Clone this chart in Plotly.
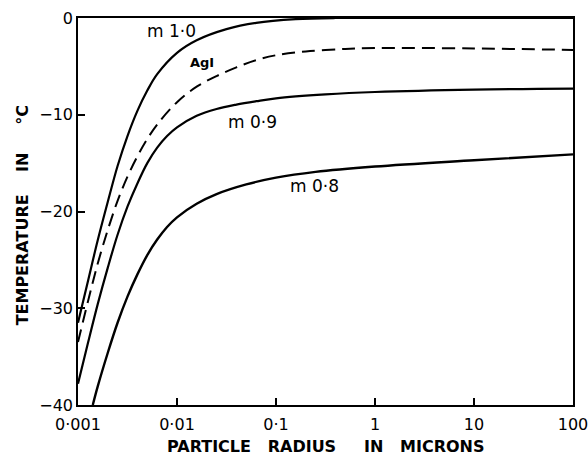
import math
import plotly.graph_objects as go

# radius in microns, temperature in °C
m10_r = [0.001, 0.00126, 0.00158, 0.002, 0.00251, 0.00316, 0.00398, 0.00501, 0.00631, 0.01, 0.0158, 0.0316, 0.0631, 0.158, 0.398, 1, 10, 100]
m10_t = [-31.5, -27.2, -23.0, -19.0, -15.3, -12.2, -9.6, -7.5, -5.8, -3.6, -2.3, -1.15, -0.5, -0.12, 0, 0, 0, 0]

agi_r = [0.001, 0.00126, 0.00158, 0.002, 0.00251, 0.00316, 0.00398, 0.00501, 0.00631, 0.01, 0.0158, 0.0251, 0.0398, 0.0631, 0.1, 0.2, 0.5, 1, 10, 100]
agi_t = [-33.5, -29.3, -25.4, -21.9, -18.9, -16.4, -14.3, -12.5, -11.0, -8.7, -7.1, -6.0, -5.1, -4.35, -3.85, -3.45, -3.2, -3.1, -3.15, -3.3]

m09_r = [0.001, 0.00126, 0.00158, 0.002, 0.00251, 0.00316, 0.00398, 0.00501, 0.00631, 0.00794, 0.01, 0.0158, 0.0251, 0.0398, 0.0631, 0.1, 0.316, 1, 10, 100]
m09_t = [-37.8, -33.6, -29.6, -25.8, -22.4, -19.5, -17.1, -15.0, -13.4, -12.2, -11.3, -10.1, -9.4, -8.95, -8.6, -8.3, -7.9, -7.65, -7.4, -7.3]

m08_r = [0.00141, 0.00158, 0.002, 0.00251, 0.00316, 0.00398, 0.00501, 0.00631, 0.00794, 0.01, 0.0158, 0.0251, 0.0501, 0.1, 0.251, 1, 10, 100]
m08_t = [-40, -38.1, -34.6, -31.5, -28.8, -26.5, -24.5, -22.9, -21.6, -20.6, -19.2, -18.2, -17.2, -16.5, -15.9, -15.35, -14.7, -14.1]

x_tickvals = [0.001, 0.01, 0.1, 1, 10, 100]
x_ticktext = ["0·001", "0·01", "0·1", "1", "10", "100"]
y_tickvals = [0, -10, -20, -30, -40]
y_ticktext = ["0", "−10", "−20", "−30", "−40"]

labels = [("m 1·0", 0.0087, -1.35, 17, "normal"), ("AgI", 0.0178, -4.6, 13, "bold"),
          ("m 0·9", 0.0575, -10.7, 17, "normal"), ("m 0·8", 0.245, -17.4, 17, "normal")]

FONT = "DejaVu Sans"
NB = "\u00a0"
fig = go.Figure()
common = dict(mode="lines", line_shape="spline", showlegend=False, hoverinfo="skip")
fig.add_trace(go.Scatter(x=m10_r, y=m10_t, line=dict(color="black", width=2.2), **common))
fig.add_trace(go.Scatter(x=agi_r, y=agi_t, line=dict(color="black", width=2, dash="13px,7px"), **common))
fig.add_trace(go.Scatter(x=m09_r, y=m09_t, line=dict(color="black", width=2.2), **common))
fig.add_trace(go.Scatter(x=m08_r, y=m08_t, line=dict(color="black", width=2.4), **common))

for txt, x, y, s, w in labels:
    fig.add_annotation(x=math.log10(x), y=y, text=txt, showarrow=False,
                       font=dict(family=FONT, size=s, color="black", weight=w))

fig.add_annotation(xref="paper", yref="paper", x=0.5, y=0, yshift=-41, xanchor="center",
                   yanchor="middle", showarrow=False,
                   text=f"PARTICLE{NB*3}RADIUS{NB*5}IN{NB*3}MICRONS",
                   font=dict(family=FONT, size=16, color="black", weight="bold"))
fig.add_annotation(xref="paper", yref="paper", x=0, xshift=-56, y=0.49, xanchor="center",
                   yanchor="middle", showarrow=False, textangle=-90,
                   text=f"TEMPERATURE{NB*4}IN{NB*5}°C",
                   font=dict(family=FONT, size=16, color="black", weight="bold"))

fig.update_xaxes(type="log", range=[-3, 2], tickvals=x_tickvals, ticktext=x_ticktext,
                 ticks="inside", ticklen=7, tickwidth=1.5, tickcolor="black",
                 showline=True, linecolor="black", linewidth=1.5, mirror=True,
                 showgrid=False, zeroline=False, automargin=False,
                 ticklabeloverflow="allow", ticklabelstandoff=4,
                 tickfont=dict(family=FONT, size=16, color="black"))
fig.update_yaxes(range=[-40, 0], tickvals=y_tickvals, ticktext=y_ticktext,
                 ticks="inside", ticklen=7, tickwidth=1.5, tickcolor="black",
                 showline=True, linecolor="black", linewidth=1.5, mirror=True,
                 showgrid=False, zeroline=False, automargin=False,
                 ticklabeloverflow="allow",
                 tickfont=dict(family=FONT, size=16, color="black"))
fig.update_layout(width=588, height=459, margin=dict(l=78, r=15, t=18, b=54),
                  plot_bgcolor="white", paper_bgcolor="white")
fig.write_html("out.html", config={"displayModeBar": False},
               post_script="document.body.style.margin='0';document.body.style.overflow='hidden';")
